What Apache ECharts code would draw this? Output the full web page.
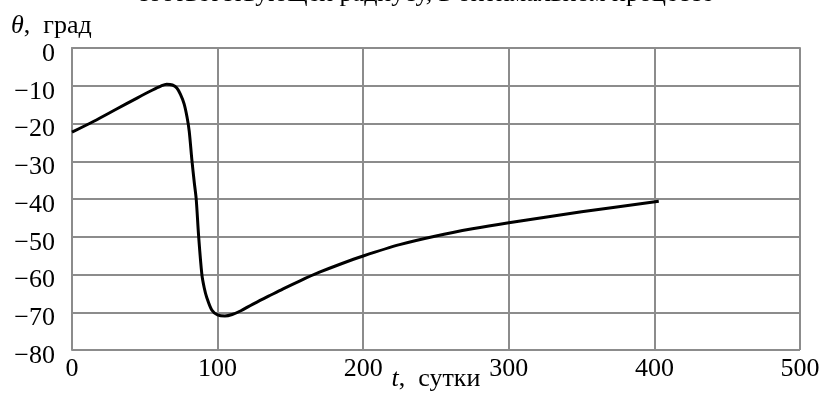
<!DOCTYPE html>
<html>
<head>
<meta charset="utf-8">
<script src="https://cdn.jsdelivr.net/npm/echarts@6/dist/echarts.min.js"></script>
<style>
  html, body { margin: 0; padding: 0; background: #fff; }
  #chart { width: 820px; height: 409px; }
</style>
</head>
<body>
<div id="chart"></div>
<script>
// время, сутки
var tDays = [0, 15, 30, 45, 55, 61, 65, 69, 72, 74.5, 77, 79, 80.5, 82.3, 84, 85.3, 87, 89.2, 90.8, 92.5, 96, 100, 105, 110, 116, 124, 135, 145, 157, 170, 185, 200, 225, 250, 275, 300, 350, 403]
// угол theta, град
var thetaDeg = [-22.3, -19.4, -16.3, -13.2, -11.2, -10.1, -9.6, -9.8, -10.6, -12.3, -14.8, -18.3, -22, -29.5, -35.7, -40, -50, -60, -63.5, -66, -69.4, -70.7, -71.0, -70.6, -69.6, -67.9, -65.75, -63.8, -61.6, -59.4, -57.15, -55.1, -52.1, -49.8, -47.9, -46.3, -43.4, -40.6]

var xTicks = [0, 100, 200, 300, 400, 500]
var yTicks = [-80, -70, -60, -50, -40, -30, -20, -10, 0]

var titleText = 'соответствующей радиусу, в оптимальном процессе'

var points = tDays.map(function (t, i) { return [t, thetaDeg[i]] })

var font = "'Liberation Serif', 'DejaVu Serif', serif"
var gridColor = '#8c8c8c'

var mychart = echarts.init(document.getElementById('chart'))
mychart.setOption({
    animation: false,
    grid: { left: 72, right: 20, top: 48, bottom: 59, outerBoundsMode: 'none', containLabel: false },
    graphic: [{
        type: 'text',
        left: 137,
        top: -19,
        style: { text: titleText, font: '26px ' + font, fill: '#000' }
    }, {
        type: 'text',
        left: 11,
        top: 13,
        style: {
            text: '{i|θ},  град',
            font: '26px ' + font,
            fill: '#000',
            rich: { i: { fontStyle: 'italic', fontFamily: font, fontSize: 26 } }
        }
    }],
    xAxis: {
        type: 'value',
        min: xTicks[0],
        max: xTicks[xTicks.length - 1],
        interval: 100,
        name: '{i|t},  сутки',
        nameLocation: 'middle',
        nameGap: 16,
        nameMoveOverlap: false,
        nameTextStyle: {
            color: '#000', fontFamily: font, fontSize: 26,
            rich: { i: { fontStyle: 'italic', fontFamily: font, fontSize: 26 } }
        },
        axisLine: { show: true, lineStyle: { color: gridColor, width: 2 } },
        axisTick: { show: false },
        axisLabel: { color: '#000', fontFamily: font, fontSize: 26, margin: 6 },
        splitLine: { show: true, lineStyle: { color: gridColor, width: 2 } }
    },
    yAxis: {
        type: 'value',
        min: yTicks[0],
        max: yTicks[yTicks.length - 1],
        interval: 10,
        axisLine: { show: true, lineStyle: { color: gridColor, width: 2 } },
        axisTick: { show: false },
        axisLabel: {
            color: '#000', fontFamily: font, fontSize: 26, margin: 17,
            verticalAlign: 'top', lineHeight: 12,
            formatter: function (v) { return String(v).replace('-', '\u2212') }
        },
        splitLine: { show: true, lineStyle: { color: gridColor, width: 2 } }
    },
    series: [{
        type: 'line',
        data: points,
        smooth: 0.3,
        showSymbol: false,
        lineStyle: { color: '#000', width: 3 }
    }]
})
</script>
</body>
</html>
